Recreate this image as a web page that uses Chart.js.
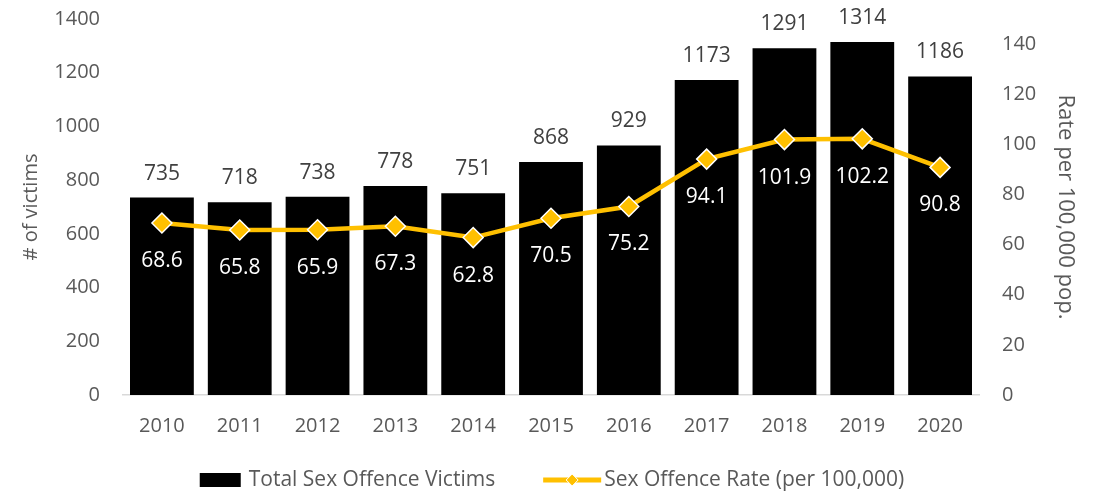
<!DOCTYPE html>
<html>
<head>
<meta charset="utf-8">
<script src="https://cdn.jsdelivr.net/npm/chart.js@4"></script>
<style>
  html, body { margin: 0; padding: 0; background: #fff; }
  #wrap { width: 1104px; height: 494px; }
</style>
</head>
<body>
<div id="wrap"><canvas id="chart"></canvas></div>
<script>
const years = ['2010', '2011', '2012', '2013', '2014', '2015', '2016', '2017', '2018', '2019', '2020'];
const victims = [735, 718, 738, 778, 751, 868, 929, 1173, 1291, 1314, 1186];
const rates = [68.6, 65.8, 65.9, 67.3, 62.8, 70.5, 75.2, 94.1, 101.9, 102.2, 90.8];
const victimTicks = [0, 200, 400, 600, 800, 1000, 1200, 1400];
const rateTicks = [0, 20, 40, 60, 80, 100, 120, 140];

const FONT = 'Open Sans';
const GREY = '#595959';
const YELLOW = '#FFC000';

// value labels: counts above bars, rates under the points
const valueLabels = {
    id: 'valueLabels',
    afterDatasetsDraw(chart) {
        const ctx = chart.ctx;
        ctx.save();
        ctx.font = `21px "${FONT}"`;
        ctx.textAlign = 'center';
        ctx.textBaseline = 'middle';

        chart.data.datasets.forEach((ds, di) => {
            const meta = chart.getDatasetMeta(di);
            meta.data.forEach((el, i) => {
                if (ds.type === 'bar') {
                    ctx.fillStyle = '#404040';
                    ctx.fillText(ds.data[i], el.x, el.y - 24);
                } else {
                    ctx.fillStyle = '#ffffff';
                    ctx.fillText(ds.data[i].toFixed(1), el.x, el.y + 38);
                }
            });
        });
        ctx.restore();
    }
};

// legend drawn by hand so the line entry can carry its diamond
const bottomLegend = {
    id: 'bottomLegend',
    afterDraw(chart) {
        const ctx = chart.ctx;
        const barDs = chart.data.datasets.find(d => d.type === 'bar');
        const lineDs = chart.data.datasets.find(d => d.type === 'line');
        ctx.save();
        ctx.font = `21px "${FONT}"`;
        ctx.textBaseline = 'middle';
        const y = 480;
        const w1 = ctx.measureText(barDs.label).width;
        const w2 = ctx.measureText(lineDs.label).width;
        const total = 41 + 8 + w1 + 48 + 58 + 3 + w2;
        let x = (chart.width - total) / 2;

        ctx.fillStyle = '#000';
        ctx.fillRect(x, y - 7, 41, 14);
        x += 49;
        ctx.fillStyle = GREY;
        ctx.fillText(barDs.label, x, y);
        x += w1 + 48;

        ctx.strokeStyle = YELLOW;
        ctx.lineWidth = 5;
        ctx.beginPath();
        ctx.moveTo(x, y);
        ctx.lineTo(x + 58, y);
        ctx.stroke();
        const cx = x + 29;
        ctx.fillStyle = YELLOW;
        ctx.strokeStyle = '#fff';
        ctx.lineWidth = 1;
        ctx.beginPath();
        ctx.moveTo(cx, y - 6);
        ctx.lineTo(cx + 6, y);
        ctx.lineTo(cx, y + 6);
        ctx.lineTo(cx - 6, y);
        ctx.closePath();
        ctx.fill();
        ctx.stroke();
        x += 61;

        ctx.fillStyle = GREY;
        ctx.fillText(lineDs.label, x, y);
        ctx.restore();
    }
};

const plain = (v) => String(v);

const ctx = document.getElementById('chart').getContext('2d');
new Chart(ctx, {
    data: {
        labels: years,
        datasets: [
            {
                type: 'line',
                label: 'Sex Offence Rate (per 100,000)',
                data: rates,
                yAxisID: 'yRate',
                borderColor: YELLOW,
                borderWidth: 4.5,
                tension: 0,
                pointStyle: 'rectRot',
                pointRadius: 10,
                pointHoverRadius: 10,
                pointBackgroundColor: YELLOW,
                pointBorderColor: '#ffffff',
                pointBorderWidth: 1.5,
                order: 0,
            },
            {
                type: 'bar',
                label: 'Total Sex Offence Victims',
                data: victims,
                yAxisID: 'yCount',
                backgroundColor: '#000000',
                barPercentage: 0.82,
                categoryPercentage: 1,
                order: 1,
            },
        ],
    },
    options: {
        responsive: true,
        maintainAspectRatio: false,
        animation: false,
        layout: { padding: { top: 19, bottom: 0, left: 0, right: 0 } },
        plugins: {
            legend: { display: false },
            tooltip: { enabled: false },
        },
        scales: {
            x: {
                grid: { display: false, drawTicks: false },
                border: { color: '#d9d9d9', width: 1.5 },
                ticks: { color: GREY, font: { family: FONT, size: 20 }, padding: 19 },
                afterFit: (s) => { s.height = 99; },
            },
            yCount: {
                position: 'left',
                min: 0,
                max: 1400,
                grid: { display: false, drawTicks: false },
                border: { display: false },
                ticks: { color: GREY, font: { family: FONT, size: 20 }, padding: 23, callback: plain },
                afterBuildTicks: (s) => { s.ticks = victimTicks.map(v => ({ value: v })); },
                title: { display: true, text: '# of victims', color: GREY, font: { family: FONT, size: 20 }, padding: { top: 19 } },
                afterFit: (s) => { s.width = 123; s.paddingTop = 0; s.paddingBottom = 0; },
            },
            yRate: {
                position: 'right',
                min: 0,
                max: 150,
                grid: { display: false, drawTicks: false },
                border: { display: false },
                ticks: { color: GREY, font: { family: FONT, size: 20 }, padding: 23, callback: plain },
                afterBuildTicks: (s) => { s.ticks = rateTicks.map(v => ({ value: v })); },
                title: { display: true, text: 'Rate per 100,000 pop.', color: GREY, font: { family: FONT, size: 22 }, padding: { top: 26 } },
                afterFit: (s) => { s.width = 125; s.paddingTop = 0; s.paddingBottom = 0; },
            },
        },
    },
    plugins: [valueLabels, bottomLegend],
});
</script>
</body>
</html>
